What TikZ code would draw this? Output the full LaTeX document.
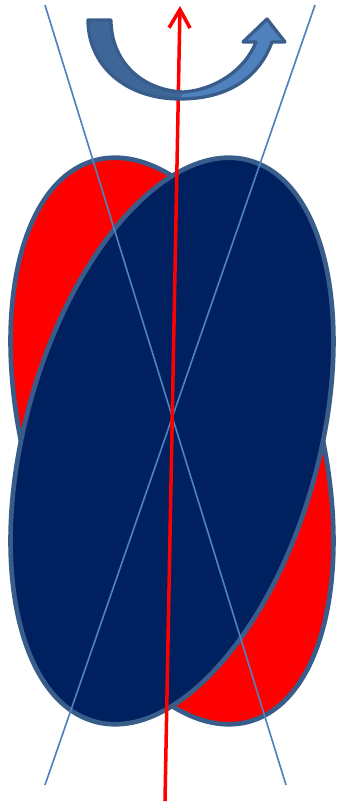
\documentclass[tikz,border=0pt]{standalone}
\usepackage{tikz}
\usetikzlibrary{arrows.meta}
\definecolor{rimcol}{HTML}{385D8A}
\definecolor{navycol}{HTML}{002060}
\definecolor{guidecol}{HTML}{4F81BD}
\definecolor{turnfront}{HTML}{4F81BD}
\definecolor{turnback}{HTML}{3F6698}
\tikzset{
  lobe/.style={draw=rimcol,line width=4pt},
  guide/.style={guidecol,line width=1.4pt},
  spin/.style={red,line width=3pt,-{Straight Barb[length=5.5mm,width=6.3mm]}},
  turn/.style={draw=rimcol,line width=2.8pt,line join=round},
}
\begin{document}
\begin{tikzpicture}[x=0.03cm,y=-0.03cm]
  \useasboundingbox (0,0) rectangle (337,803);
  \coordinate (mid) at (172,441);
  % the two tilted lobes
  \draw[lobe,fill=red,rotate around={15.4:(mid)}] (mid) ellipse [x radius=147,y radius=291];
  \draw[lobe,fill=navycol,rotate around={-15.4:(mid)}] (mid) ellipse [x radius=147,y radius=291];
  % guide lines
  \coordinate (g1a) at (45,5);
  \coordinate (g1b) at (286,785);
  \coordinate (g2a) at (315,5);
  \coordinate (g2b) at (45,785);
  \draw[guide] (g1a) -- (g1b);
  \draw[guide] (g2a) -- (g2b);
  % spin axis
  \coordinate (tail) at (165,801);
  \coordinate (head) at (180,6);
  \draw[spin] (tail) -- (head);
  % curved arrow
  \fill[turnfront] (88,20) -- (111,20) .. controls (111,60) and (140,90) .. (183,92)
    .. controls (215,90) and (245,70) .. (256,42) -- (243,42) -- (267,19) -- (285,42) -- (272,42)
    .. controls (258,80) and (225,99) .. (180,99) .. controls (125,99) and (88,65) .. (88,20) -- cycle;
  \fill[turnback] (88,20) -- (111,20) .. controls (111,60) and (140,90) .. (183,92)
    -- (180,99) .. controls (125,99) and (88,65) .. (88,20) -- cycle;
  \draw[turn] (88,20) -- (111,20) .. controls (111,60) and (140,90) .. (183,92)
    .. controls (215,90) and (245,70) .. (256,42) -- (243,42) -- (267,19) -- (285,42) -- (272,42)
    .. controls (258,80) and (225,99) .. (180,99) .. controls (125,99) and (88,65) .. (88,20) -- cycle;
\end{tikzpicture}
\end{document}
